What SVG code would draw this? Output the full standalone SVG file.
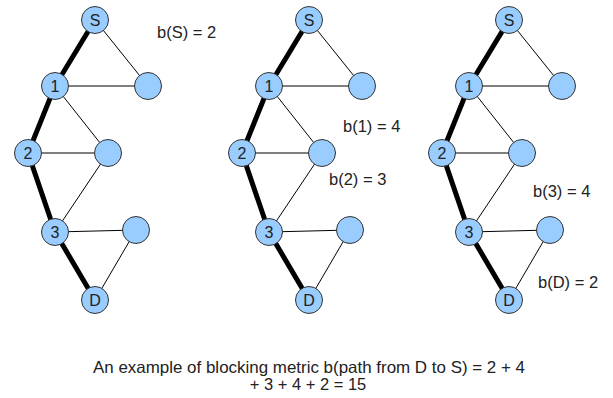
<svg xmlns="http://www.w3.org/2000/svg" width="613" height="398" viewBox="0 0 613 398">
  <style>
    .bg { fill: #ffffff; }
    .node { fill: #99ccff; stroke: #333333; stroke-width: 1; }
    .lbl { font-family: "Liberation Sans", Arial, sans-serif; font-size: 16px; fill: #222222; text-anchor: middle; }
    .note { font-family: "Liberation Sans", Arial, sans-serif; font-size: 16.5px; fill: #222222; }
    .cap { font-family: "Liberation Sans", Arial, sans-serif; font-size: 16.5px; fill: #222222; text-anchor: middle; }
    .path { stroke: #000000; stroke-width: 5; fill: none; stroke-linecap: butt; }
    .edge { stroke: #000000; stroke-width: 1; fill: none; }
  </style>
  <defs>
    <!-- one copy of the graph: path edges, side edges, nodes -->
    <g id="graph">
      <g id="connectors">
        <polyline class="path" points="95,20 55,86 28,153 55,232 95,300"/>
        <line class="edge" x1="95" y1="20" x2="148" y2="86"/>
        <line class="edge" x1="55" y1="86" x2="148" y2="86"/>
        <line class="edge" x1="55" y1="86" x2="108" y2="153"/>
        <line class="edge" x1="28" y1="153" x2="108" y2="153"/>
        <line class="edge" x1="108" y1="153" x2="55" y2="232"/>
        <line class="edge" x1="55" y1="232" x2="136" y2="230"/>
        <line class="edge" x1="136" y1="230" x2="95" y2="300"/>
      </g>
      <g id="node-S"><circle class="node" cx="95" cy="20" r="13.5"/><text class="lbl" x="95" y="26">S</text></g>
      <g id="node-1"><circle class="node" cx="55" cy="86" r="13.5"/><text class="lbl" x="55" y="92">1</text></g>
      <g id="node-a"><circle class="node" cx="148" cy="86" r="13.5"/></g>
      <g id="node-2"><circle class="node" cx="28" cy="153" r="13.5"/><text class="lbl" x="28" y="159">2</text></g>
      <g id="node-b"><circle class="node" cx="108" cy="153" r="13.5"/></g>
      <g id="node-3"><circle class="node" cx="55" cy="232" r="13.5"/><text class="lbl" x="55" y="238">3</text></g>
      <g id="node-c"><circle class="node" cx="136" cy="230" r="13.5"/></g>
      <g id="node-D"><circle class="node" cx="95" cy="300" r="13.5"/><text class="lbl" x="95" y="306">D</text></g>
    </g>
  </defs>

  <rect class="bg" x="0" y="0" width="613" height="398"/>

  <use href="#graph" x="0" y="0"/>
  <use href="#graph" x="214" y="0"/>
  <use href="#graph" x="414" y="0"/>

  <!-- per-node blocking values -->
  <text class="note" x="157" y="38">b(S) = 2</text>
  <text class="note" x="343" y="132">b(1) = 4</text>
  <text class="note" x="329" y="185">b(2) = 3</text>
  <text class="note" x="533" y="197">b(3) = 4</text>
  <text class="note" x="538" y="288">b(D) = 2</text>

  <!-- caption -->
  <text class="cap" x="309" y="373" textLength="432" lengthAdjust="spacingAndGlyphs">An example of blocking metric b(path from D to S) = 2 + 4</text>
  <text class="cap" x="308" y="390">+ 3 + 4 + 2 = 15</text>
</svg>
